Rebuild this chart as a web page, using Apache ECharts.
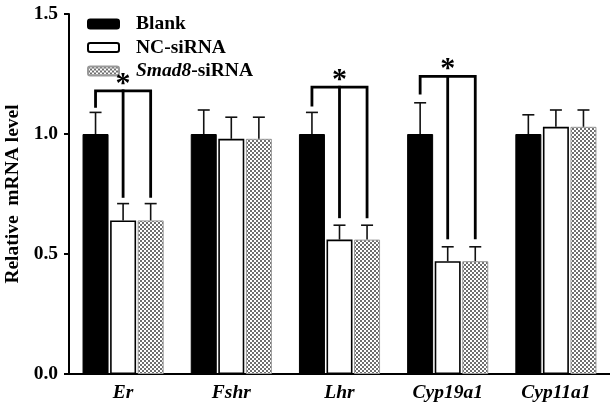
<!DOCTYPE html>
<html>
<head>
<meta charset="utf-8">
<script src="https://cdn.jsdelivr.net/npm/echarts@6/dist/echarts.min.js"></script>
<style>html,body{margin:0;padding:0;background:#fff}#c{width:610px;height:403px}</style>
</head>
<body>
<div id="c"></div>
<script>
// ---- data ----
const categories = ['Er', 'Fshr', 'Lhr', 'Cyp19a1', 'Cyp11a1'];
const blank = [1.00, 1.00, 1.00, 1.00, 1.00];
const blankErr = [0.09, 0.10, 0.09, 0.13, 0.08];
const ncSiRNA = [0.64, 0.98, 0.56, 0.47, 1.03];
const ncErr = [0.07, 0.09, 0.06, 0.06, 0.07];
const smad8SiRNA = [0.64, 0.98, 0.56, 0.47, 1.03];
const smad8Err = [0.07, 0.09, 0.06, 0.06, 0.07];
const yTicks = [0, 0.5, 1.0, 1.5];
// significance brackets: category index, bracket top, left leg end, right drops end
const sigCategory = [0, 2, 3];
const sigTop = [1.18, 1.195, 1.24];
const sigLeg = [1.115, 1.12, 1.17];
const sigDrop = [0.74, 0.655, 0.567];

// ---- style ----
const FONT = 'Liberation Serif';
const FS = 19.5;
const BAR_W = 26;
const BAR_GAP = 0.06;
const STEP = BAR_W * (1 + BAR_GAP);

const pat = document.createElement('canvas');
pat.width = 4; pat.height = 4;
const pc = pat.getContext('2d');
pc.fillStyle = '#fff'; pc.fillRect(0, 0, 4, 4);
pc.fillStyle = '#6e6e6e';
pc.fillRect(0, 0, 2, 2); pc.fillRect(2, 2, 2, 2);

const chart = echarts.init(document.getElementById('c'));

function errSeries(vals, errs, idx) {
  return {
    type: 'custom',
    silent: true,
    z: 5,
    data: vals.map((v, i) => [i, v, v + errs[i]]),
    encode: { x: 0, y: [1, 2] },
    renderItem: function (params, api) {
      const c = api.value(0);
      const off = (idx - 1) * STEP;
      const p0 = api.coord([c, api.value(1)]);
      const p1 = api.coord([c, api.value(2)]);
      const x = p0[0] + off;
      const st = { stroke: '#111', lineWidth: 1.6 };
      return {
        type: 'group',
        children: [
          { type: 'line', shape: { x1: x, y1: p0[1], x2: x, y2: p1[1] }, style: st },
          { type: 'line', shape: { x1: x - 6, y1: p1[1], x2: x + 6, y2: p1[1] }, style: st }
        ]
      };
    }
  };
}

const sigData = sigCategory.map((c, i) => [c, sigTop[i], sigLeg[i], sigDrop[i]]);

chart.setOption({
  animation: false,
  backgroundColor: '#fff',
  textStyle: { fontFamily: FONT },
  legend: {
    orient: 'vertical',
    left: 87,
    top: 14,
    padding: 0,
    itemWidth: 31,
    itemHeight: 9,
    itemGap: 3.5,
    selectedMode: false,
    data: ['Blank', 'NC-siRNA', 'Smad8-siRNA'],
    formatter: function (n) {
      return n === 'Smad8-siRNA' ? '{i|Smad8}{n|-siRNA}' : '{n|' + n + '}';
    },
    textStyle: {
      fontFamily: FONT, fontWeight: 'bold', fontSize: FS, color: '#000',
      padding: [0, 0, 0, 12], lineHeight: 20,
      rich: {
        n: { fontFamily: FONT, fontWeight: 'bold', fontSize: FS, color: '#000', lineHeight: 20 },
        i: { fontFamily: FONT, fontWeight: 'bold', fontStyle: 'italic', fontSize: FS, color: '#000', lineHeight: 20 }
      }
    }
  },
  grid: { left: 69, right: 0, top: 14, bottom: 29, containLabel: false, outerBoundsMode: 'none' },
  xAxis: {
    type: 'category',
    data: categories,
    axisLine: { lineStyle: { color: '#000', width: 2 } },
    axisTick: { alignWithLabel: true, length: 5, lineStyle: { color: '#000', width: 2 } },
    axisLabel: {
      margin: 9, color: '#000', fontFamily: FONT, fontWeight: 'bold',
      fontStyle: 'italic', fontSize: FS
    }
  },
  yAxis: {
    type: 'value',
    min: yTicks[0],
    max: yTicks[yTicks.length - 1],
    interval: 0.5,
    name: 'Relative  mRNA level',
    nameLocation: 'middle',
    nameGap: 43,
    nameTextStyle: { fontFamily: FONT, fontWeight: 'bold', fontSize: FS, color: '#000' },
    splitLine: { show: false },
    axisLine: { show: true, lineStyle: { color: '#000', width: 2 } },
    axisTick: { show: true, length: 5, lineStyle: { color: '#000', width: 2 } },
    axisLabel: {
      margin: 11, color: '#000', fontFamily: FONT, fontWeight: 'bold', fontSize: FS,
      formatter: v => v.toFixed(1)
    }
  },
  series: [
    {
      name: 'Blank', type: 'bar', data: blank, barWidth: BAR_W, barGap: (BAR_GAP * 100) + '%',
      itemStyle: { color: '#000', borderColor: '#000', borderWidth: 1 }
    },
    {
      name: 'NC-siRNA', type: 'bar', data: ncSiRNA, barWidth: BAR_W,
      itemStyle: { color: '#fff', borderColor: '#000', borderWidth: 1.6 }
    },
    {
      name: 'Smad8-siRNA', type: 'bar', data: smad8SiRNA, barWidth: BAR_W,
      itemStyle: { color: { image: pat, repeat: 'repeat' }, borderColor: '#999', borderWidth: 1 }
    },
    errSeries(blank, blankErr, 0),
    errSeries(ncSiRNA, ncErr, 1),
    errSeries(smad8SiRNA, smad8Err, 2),
    {
      type: 'custom',
      silent: true,
      z: 6,
      data: sigData,
      encode: { x: 0, y: [1, 2, 3] },
      renderItem: function (params, api) {
        const c = api.value(0);
        const top = api.coord([c, api.value(1)]);
        const leg = api.coord([c, api.value(2)]);
        const drop = api.coord([c, api.value(3)]);
        const xl = top[0] - STEP, xm = top[0], xr = top[0] + STEP;
        const st = { stroke: '#000', lineWidth: 2.8, lineCap: 'square' };
        return {
          type: 'group',
          children: [
            { type: 'polyline', shape: { points: [[xl, leg[1]], [xl, top[1]], [xr, top[1]], [xr, drop[1]]] }, style: Object.assign({ fill: null }, st) },
            { type: 'line', shape: { x1: xm, y1: top[1], x2: xm, y2: drop[1] }, style: st },
            { type: 'text', style: { x: xm, y: top[1] + 8, text: '*', fill: '#000', font: 'bold 30px "Liberation Serif"', align: 'center', verticalAlign: 'bottom' } }
          ]
        };
      }
    }
  ]
});
</script>
</body>
</html>
